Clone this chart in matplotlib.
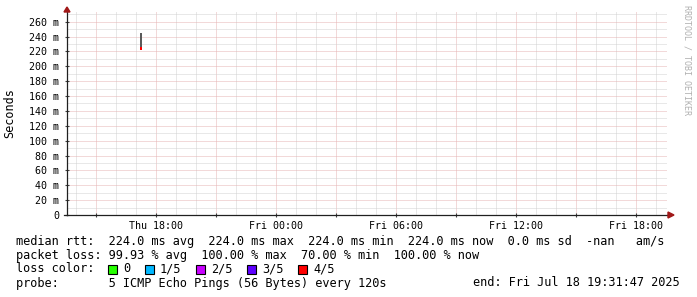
import matplotlib
matplotlib.use("Agg")
import matplotlib.pyplot as plt
import matplotlib.dates as mdates
from matplotlib.ticker import MultipleLocator, FuncFormatter
from datetime import datetime, timedelta

# ---- data ----
start_time = datetime(2025, 7, 17, 13, 31, 47)
end_time = datetime(2025, 7, 18, 19, 31, 47)
sample_times = [datetime(2025, 7, 17, 17, 15, 0)]
median_ms = [224.0]
smoke_low_ms = [224.0]
smoke_high_ms = [245.0]
y_max_ms = 273

legend_lines = [
    "median rtt:  224.0 ms avg  224.0 ms max  224.0 ms min  224.0 ms now  0.0 ms sd  -nan   am/s",
    "packet loss: 99.93 % avg  100.00 % max  70.00 % min  100.00 % now",
]
loss_labels = ["0", "1/5", "2/5", "3/5", "4/5"]
loss_colors = ["#26ff00", "#00b8ff", "#c800ff", "#5e00ff", "#ff0000"]
probe_text = "probe:       5 ICMP Echo Pings (56 Bytes) every 120s"
end_text = "end: Fri Jul 18 19:31:47 2025"

W, H = 697, 297
fig = plt.figure(figsize=(W / 100, H / 100), dpi=100)
L, R, T, B = 67, 667, 12, 215
ax = fig.add_axes([L / W, 1 - B / H, (R - L) / W, (B - T) / H])

mono = "DejaVu Sans Mono"

# smoke
bar_w = timedelta(minutes=6)
for t, lo, hi in zip(sample_times, smoke_low_ms, smoke_high_ms):
    ax.bar(mdates.date2num(t), hi - lo, bottom=lo, width=bar_w.total_seconds() / 86400,
           color="#5a5a5a", linewidth=0, zorder=3, align="center")
# median markers
for t, m in zip(sample_times, median_ms):
    ax.bar(mdates.date2num(t), 3, bottom=m - 1.5, width=bar_w.total_seconds() / 86400,
           color="#ff0000", linewidth=0, zorder=4, align="center")

ax.set_xlim(mdates.date2num(start_time), mdates.date2num(end_time))
ax.set_ylim(0, y_max_ms)

# x ticks
ax.xaxis.set_major_locator(mdates.HourLocator(byhour=range(0, 24, 3)))
ax.xaxis.set_minor_locator(mdates.HourLocator(interval=1))
def xfmt(x, pos):
    d = mdates.num2date(x)
    if d.hour % 6 == 0:
        return d.strftime("%a %H:%M")
    return ""
ax.xaxis.set_major_formatter(FuncFormatter(xfmt))

# y ticks
ax.yaxis.set_major_locator(MultipleLocator(20))
ax.yaxis.set_minor_locator(MultipleLocator(10))
ax.yaxis.set_major_formatter(FuncFormatter(lambda v, p: "0" if v == 0 else f"{int(v)} m"))

ax.grid(which="major", color="#e6b4b4", linestyle=(0, (1, 1)), linewidth=0.72, zorder=1)
ax.grid(which="minor", color="#d2d2d2", linestyle=(0, (1, 1)), linewidth=0.72, zorder=1)
ax.set_axisbelow(True)

ax.tick_params(axis="both", which="major", labelsize=7.2, length=3, width=0.8,
               direction="inout", color="#404040")
ax.tick_params(axis="both", which="minor", length=0)
ax.tick_params(axis="x", pad=3)
ax.tick_params(axis="y", pad=4)
for lab in ax.get_xticklabels() + ax.get_yticklabels():
    lab.set_family(mono)

for s in ["top", "right"]:
    ax.spines[s].set_visible(False)
for s in ["left", "bottom"]:
    ax.spines[s].set_color("#202020")
    ax.spines[s].set_linewidth(0.9)

# arrows
fig.patches.append(matplotlib.patches.Polygon(
    [[(L - 3) / W, 1 - 12 / H], [(L + 3) / W, 1 - 12 / H], [L / W, 1 - 7 / H]],
    closed=True, transform=fig.transFigure, color="#a01818", zorder=10))
fig.patches.append(matplotlib.patches.Polygon(
    [[668 / W, 1 - 212 / H], [668 / W, 1 - 218 / H], [674 / W, 1 - 215 / H]],
    closed=True, transform=fig.transFigure, color="#a01818", zorder=10))
fig.lines.append(matplotlib.lines.Line2D([R / W, 669 / W], [1 - B / H, 1 - B / H],
                 transform=fig.transFigure, color="#202020", linewidth=0.9))
fig.lines.append(matplotlib.lines.Line2D([64 / W, L / W], [1 - B / H, 1 - B / H],
                 transform=fig.transFigure, color="#202020", linewidth=0.9))

# y label
fig.text(10 / W, 1 - 113 / H, "Seconds", rotation=90, ha="center", va="center",
         family=mono, fontsize=8.5)

# watermark
fig.text(687 / W, 1 - 5 / H, "RRDTOOL / TOBI OETIKER", rotation=270, ha="center", va="top",
         family=mono, fontsize=6.0, color="#b0b0b0")

fs = 8.55
ys = [241, 255, 269, 283]
for y, line in zip(ys[:2], legend_lines):
    fig.text(16 / W, 1 - y / H, line, ha="left", va="center", family=mono, fontsize=fs)

fig.text(16 / W, 1 - ys[2] / H, "loss color:", ha="left", va="center", family=mono, fontsize=fs)
box_x = [108, 145, 196, 247, 298]
for bx, lab, col in zip(box_x, loss_labels, loss_colors):
    fig.patches.append(matplotlib.patches.Rectangle(
        (bx / W, 1 - (ys[2] + 5) / H), 9 / W, 9 / H, transform=fig.transFigure,
        facecolor=col, edgecolor="black", linewidth=0.8))
    fig.text((bx + 15) / W, 1 - ys[2] / H, lab, ha="left", va="center", family=mono, fontsize=fs)

fig.text(16 / W, 1 - ys[3] / H, probe_text, ha="left", va="center", family=mono, fontsize=fs)
fig.text(680 / W, 1 - ys[3] / H, end_text, ha="right", va="center", family=mono, fontsize=fs)

fig.savefig("out.png", dpi=100)
